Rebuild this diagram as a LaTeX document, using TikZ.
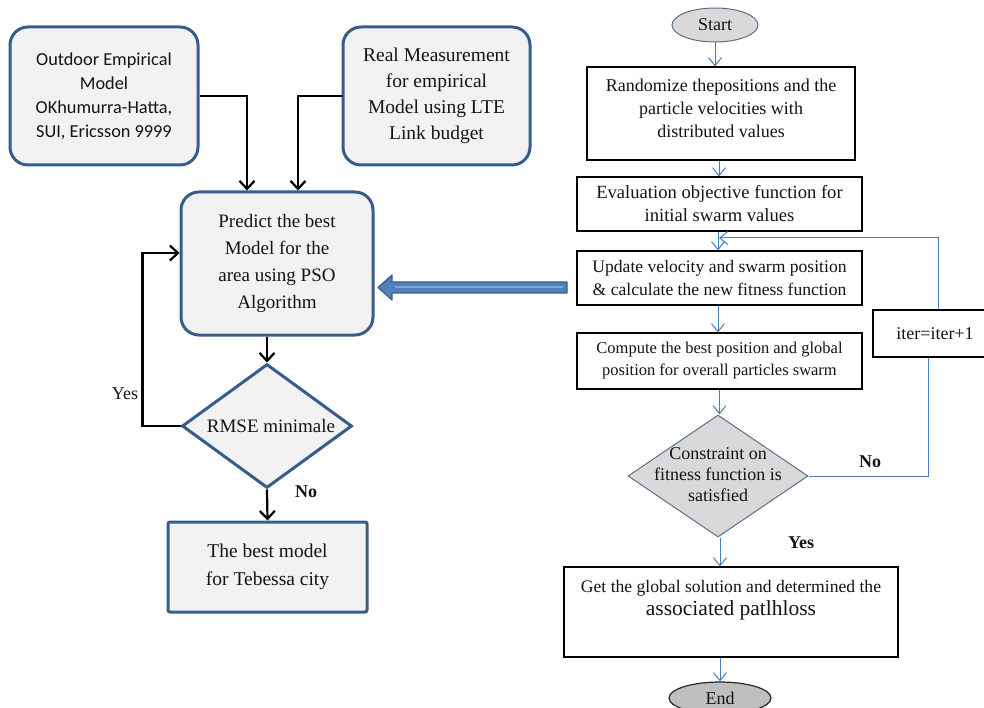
\documentclass[tikz,border=0pt]{standalone}
\usepackage{fontspec}
\setmainfont{Liberation Serif}
\newfontfamily\calfont{Carlito}
\usetikzlibrary{shapes.geometric,arrows.meta,calc}
\definecolor{lblue}{HTML}{385D8A}
\definecolor{lfill}{HTML}{F2F2F2}
\definecolor{ablue}{HTML}{4A7EBB}
\definecolor{bfill}{HTML}{4F81BD}
\definecolor{dgrey}{HTML}{D9D9D9}
\definecolor{egrey}{HTML}{BFBFBF}
\definecolor{slate}{HTML}{5A6F8C}
\definecolor{txt}{HTML}{141414}
\begin{document}
\begin{tikzpicture}[x=1pt,y=-1pt,
  lbox/.style={draw=lblue, line width=3pt, fill=lfill, rounded corners=18pt, align=center, inner sep=0pt, text=txt},
  rbox/.style={draw=black, line width=1.2pt, fill=white, align=center, inner sep=0pt, text=txt},
  larr/.style={draw=black, line width=2.2pt, -{Straight Barb[length=8pt,width=15pt,line width=2.2pt]}},
  rarr/.style={draw=ablue, line width=1pt, -{Straight Barb[length=8pt,width=13pt,line width=1pt]}},
  rline/.style={draw=ablue, line width=1pt},
  lab/.style={font=\fontsize{18}{20}\selectfont, text=txt, inner sep=0pt}
]
\useasboundingbox (0,0) rectangle (984,708);

% ---------- left flow ----------
\node[lbox, minimum width=188pt, minimum height=138pt, font=\calfont\fontsize{18.3}{24}\selectfont] (A) at (104,96)
  {Outdoor Empirical\\Model\\OKhumurra-Hatta,\\SUI, Ericsson 9999};
\node[lbox, minimum width=187pt, minimum height=138pt, font=\fontsize{19.5}{26}\selectfont] (B) at (436.5,96)
  {Real Measurement\\for empirical\\Model using LTE\\Link budget};
\node[lbox, minimum width=192pt, minimum height=143pt, font=\fontsize{19}{27}\selectfont] (C) at (277,263.5)
  {Predict the best\\Model for the\\area using PSO\\Algorithm};
\node[diamond, draw=lblue, line width=3pt, fill=lfill, minimum width=170pt, minimum height=124pt,
  inner sep=0pt, shape aspect=1.37, font=\fontsize{19}{22}\selectfont, text=txt] (D) at (267,426)
  {\makebox[0pt]{\hspace*{8pt}RMSE minimale}};
\node[lbox, rounded corners=2pt, minimum width=199pt, minimum height=90pt, font=\fontsize{19.5}{28}\selectfont] (E) at (267.5,567)
  {The best model\\for Tebessa city};

\draw[larr] (A.east) -| ([xshift=-30pt]C.north);
\draw[larr] (B.west) -| ([xshift=21pt]C.north);
\draw[larr] (D.north |- C.south) -- (D.north);
\draw[larr] (D.west) -- ++(-38,0) |- ([yshift=10.5pt]C.west);
\draw[larr] (D.south) -- (E.north);
\node[lab] (yesL) at (125,394) {Yes};
\node[lab, font=\fontsize{18}{20}\selectfont\bfseries] (noL) at (306,492) {No};

% block arrow
\draw[draw=lblue, fill=bfill, line width=1.2pt, line join=round]
  (567,282) -- (392,282) -- (392,275) -- (378,287.5) -- (392,300) -- (392,293) -- (567,293) -- cycle;
\draw[draw=white, opacity=0.3, line width=2pt] (395,287.5) -- (563,287.5);

% ---------- right flow ----------
\node[ellipse, draw=slate, line width=1pt, fill=dgrey, minimum width=86pt, minimum height=34pt, inner sep=0pt,
  font=\fontsize{18}{20}\selectfont, text=txt] (S) at (715,25) {Start};
\node[rbox, minimum width=268pt, minimum height=93pt, font=\fontsize{18}{23}\selectfont] (R1) at (721,113.5)
  {Randomize thepositions and the\\particle velocities with\\distributed values\\[-12pt]\mbox{}};
\node[rbox, minimum width=285pt, minimum height=54pt, font=\fontsize{18.6}{23}\selectfont] (R2) at (719.5,204)
  {Evaluation objective function for\\initial swarm values};
\node[rbox, minimum width=285pt, minimum height=54pt, font=\fontsize{17.6}{23}\selectfont] (R3) at (719.5,278)
  {Update velocity and swarm position\\\& calculate the new fitness function};
\node[rbox, minimum width=285pt, minimum height=56pt, font=\fontsize{16.5}{22}\selectfont] (R4) at (719.5,361)
  {Compute the best position and global\\position for overall particles swarm};
\node[rbox, minimum width=124pt, minimum height=47pt, font=\fontsize{18}{20}\selectfont] (IT) at (935,333.5) {iter=iter+1};
\node[diamond, draw=slate, line width=1pt, fill=dgrey, minimum width=180pt, minimum height=122pt,
  inner sep=0pt, shape aspect=1.47, font=\fontsize{18}{21}\selectfont, text=txt] (D2) at (718,476)
  {\makebox[0pt]{\begin{tabular}{@{}c@{}}Constraint on\\fitness function is\\satisfied\end{tabular}}};
\node[rbox, minimum width=334pt, minimum height=90pt, font=\fontsize{17.6}{23}\selectfont] (R5) at (731,612)
  {Get the global solution and determined the\\{\fontsize{21.5}{23}\selectfont associated patlhloss}\\[5pt]\mbox{}};
\node[ellipse, draw=black!85, line width=1.2pt, fill=egrey, minimum width=102pt, minimum height=32pt, inner sep=0pt,
  font=\fontsize{18}{20}\selectfont, text=txt] (EN) at (720,698) {End};

\draw[rarr] (S.south) -- (S.south |- R1.north);
\draw[rarr] ([xshift=-2pt]R1.south) -- ([xshift=-2pt]R1.south |- R2.north);
\draw[rarr] ([xshift=-1.5pt]R2.south) -- ([xshift=-1.5pt]R2.south |- R3.north);
\draw[rarr] ([xshift=-1.5pt]R3.south) -- ([xshift=-1.5pt]R3.south |- R4.north);
\draw[rarr] (R4.south) -- (R4.south |- D2.north);
\draw[rarr] ([xshift=2pt]D2.south) -- ([xshift=2pt]D2.south |- R5.north);
\draw[rarr] ([xshift=-11pt]R5.south) -- (EN.north);
\coordinate (J) at (719,238);
\draw[rarr] ([xshift=3pt]IT.north) |- (J);
\draw[rline] (D2.east) -| ([xshift=-7pt]IT.south);
\node[lab, font=\fontsize{18}{20}\selectfont\bfseries] (noR) at (870,462) {No};
\node[lab, font=\fontsize{18}{20}\selectfont\bfseries] (yesR) at (801,543) {Yes};
\end{tikzpicture}
\end{document}
